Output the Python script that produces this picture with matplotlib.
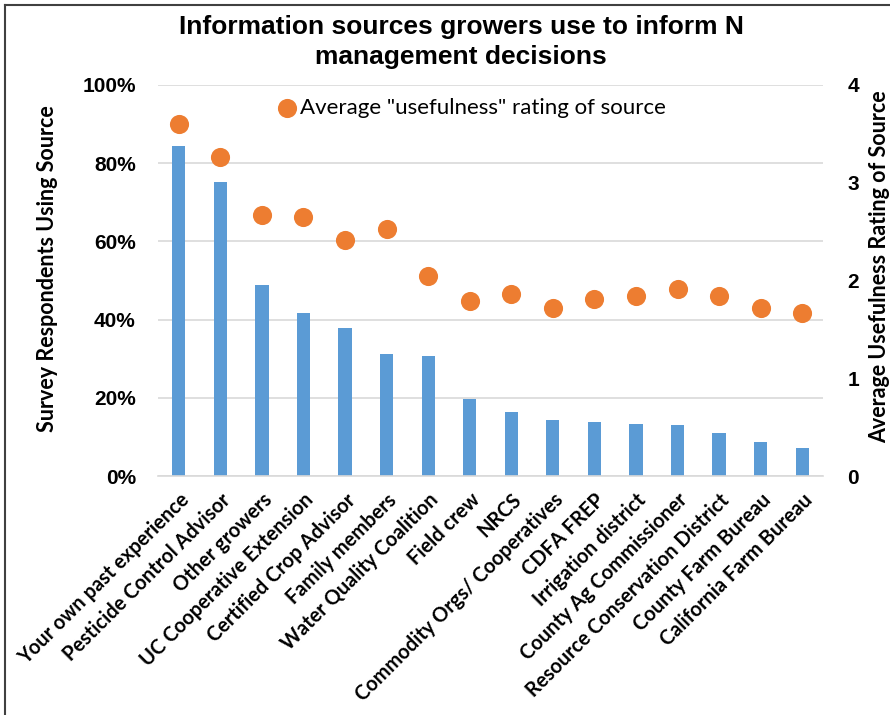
import matplotlib
matplotlib.use("Agg")
import matplotlib.pyplot as plt
from matplotlib.lines import Line2D
import numpy as np

categories = ["Your own past experience", "Pesticide Control Advisor", "Other growers",
              "UC Cooperative Extension", "Certified Crop Advisor", "Family members",
              "Water Quality Coalition", "Field crew", "NRCS", "Commodity Orgs/ Cooperatives",
              "CDFA FREP", "Irrigation district", "County Ag Commissioner",
              "Resource Conservation District", "County Farm Bureau", "California Farm Bureau"]
pct_using = [84.5, 75.3, 48.8, 41.6, 37.9, 31.1, 30.7, 19.7, 16.3, 14.3, 13.9, 13.4, 13.0, 10.9, 8.8, 7.1]
usefulness = [3.60, 3.26, 2.67, 2.65, 2.41, 2.53, 2.05, 1.79, 1.86, 1.72, 1.81, 1.84, 1.91, 1.84, 1.72, 1.67]
left_ticks = [0, 20, 40, 60, 80, 100]
left_ticklabels = ["0%", "20%", "40%", "60%", "80%", "100%"]
right_ticks = [0, 1, 2, 3, 4]

W, H = 890, 715
fig = plt.figure(figsize=(W / 100, H / 100), dpi=100)
ax = fig.add_axes([158 / W, 1 - 476 / H, (823 - 158) / W, (476 - 85) / H])
ax2 = ax.twinx()

x = np.arange(len(categories))
ax.bar(x, pct_using, width=0.32, color="#5B9BD5", zorder=2)
ax.set_ylim(0, 100)
ax.set_xlim(-0.5, len(categories) - 0.5)
ax.set_yticks(left_ticks)
ax.set_yticklabels(left_ticklabels, fontfamily="Liberation Sans", fontweight="bold", fontsize=15)
ax.yaxis.grid(True, color="#D9D9D9", linewidth=1.2, zorder=0)
ax.set_axisbelow(True)
for s in ["top", "right", "left"]:
    ax.spines[s].set_visible(False)
ax.spines["bottom"].set_color("#D9D9D9")
ax.spines["bottom"].set_linewidth(1.2)
ax.tick_params(axis="both", length=0)
ax.tick_params(axis="y", pad=16)
ax.set_xticks(x)
ax.set_xticklabels(categories, rotation=45, ha="right", rotation_mode="anchor",
                   fontfamily="Lato", fontweight="bold", fontsize=14.4)
ax.tick_params(axis="x", pad=10)
ax.set_ylabel("Survey Respondents Using Source", fontfamily="Lato", fontweight="bold",
              fontsize=15.5)
ax.yaxis.set_label_coords((58 - 158) / 665, (476 - 268.5) / 391)

ax2.scatter(x, usefulness, s=190, color="#ED7D31", zorder=3, linewidths=0,
            label='Average "usefulness" rating of source')
ax2.set_ylim(0, 4)
ax2.set_yticks(right_ticks)
ax2.set_yticklabels([str(t) for t in right_ticks], fontfamily="Liberation Sans",
                    fontweight="bold", fontsize=15)
ax2.tick_params(axis="y", length=0, pad=17.5)
for s in ["top", "right", "left", "bottom"]:
    ax2.spines[s].set_visible(False)
ax2.set_ylabel("Average Usefulness Rating of Source", fontfamily="Lato", fontweight="bold",
               fontsize=15.5)
ax2.yaxis.set_label_coords((869 - 158) / 665, (476 - 267) / 391)

leg = ax2.legend(loc="center left", bbox_to_anchor=((276 - 158) / 665, (476 - 108) / 391),
                 frameon=False, prop={"family": "Lato", "size": 16}, handletextpad=0.1,
                 handlelength=1.0, borderaxespad=0, borderpad=0, markerscale=1.0)

fig.text(461 / W, 1 - 27 / H, "Information sources growers use to inform N", ha="center", va="center",
         fontfamily="Liberation Sans", fontweight="bold", fontsize=19)
fig.text(461 / W, 1 - 57 / H, "management decisions", ha="center", va="center",
         fontfamily="Liberation Sans", fontweight="bold", fontsize=19)

fig.add_artist(Line2D([5 / W, 1], [1 - 5 / H, 1 - 5 / H], transform=fig.transFigure,
                      color="#404040", linewidth=1.5))
fig.add_artist(Line2D([5 / W, 5 / W], [0, 1 - 5 / H], transform=fig.transFigure,
                      color="#404040", linewidth=1.5))

fig.savefig("out.png", dpi=100)
